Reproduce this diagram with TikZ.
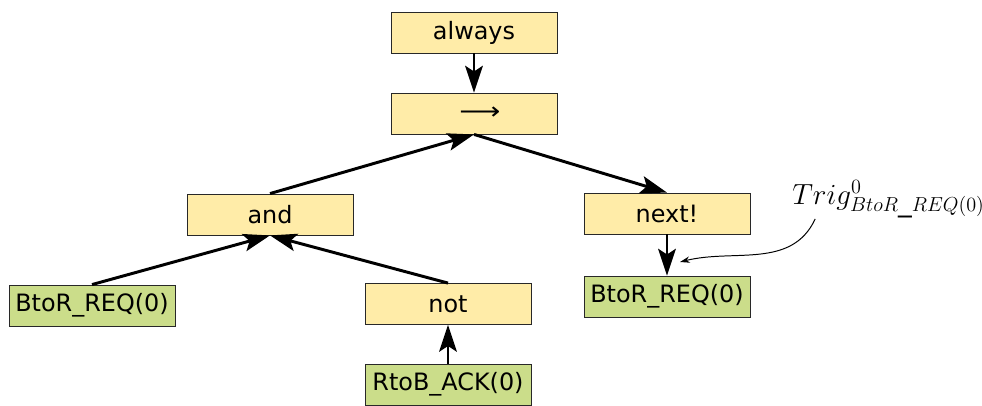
\documentclass[tikz,border=0pt]{standalone}
\usepackage{fontspec}
\setmainfont{DejaVu Sans}
\usepackage{tikz}
\usetikzlibrary{arrows.meta,positioning}
\definecolor{OpYel} {RGB}{255,236,168}
\definecolor{SigGrn}{RGB}{203,221,138}
\definecolor{EdgeG} {RGB}{40,40,40}
\tikzset{
  opbox/.style={draw=EdgeG,line width=0.6pt,fill=OpYel,minimum width=4.15cm,
    minimum height=1.025cm,inner sep=0pt,font=\fontsize{17}{20}\selectfont},
  sigbox/.style={opbox,fill=SigGrn},
  tree/.style={-{Stealth[length=19pt,width=12.5pt,inset=4pt]},line width=2.1pt}
}
\begin{document}
\begin{tikzpicture}
        \useasboundingbox (0,0) rectangle (24.55,10.125);
        % operators
        \node[opbox] (always) at (11.85,9.3125) {always};
        \node[opbox] (impl) at (11.85,7.2875)
          {\hspace{0.5em}\raisebox{-0.4em}{\scalebox{1.2}[1]{⟶}}};
        \node[opbox] (and) at (6.75,4.7625) {and};
        \node[opbox] (next) at (16.675,4.7875) {next!};
        \node[opbox] (not) at (11.2,2.525) {not};
        % signals
        \node[sigbox] (reqL) at (2.3,2.4875) {BtoR\_REQ(0)};
        \node[sigbox] (ack) at (11.2,0.5125) {RtoB\_ACK(0)};
        \node[sigbox] (reqR) at (16.675,2.7125) {BtoR\_REQ(0)};
        \draw[tree] (always) -- (impl);
        \draw[tree] (and.north) -- (impl.south);
        \draw[tree] (impl.south) -- (next.north);
        \draw[tree] (reqL.north) -- (and.south);
        \draw[tree] (not.north) -- (and.south);
        \draw[tree] (ack) -- (not);
        \draw[tree] (next) -- (reqR);
        % trigger label
        \node[font=\fontsize{19.5}{22}\selectfont,anchor=base west,inner sep=0pt] (trig) at (19.8,5.02)
          {$Trig^{0}_{BtoR\_REQ(0)}$};
        \coordinate (tend) at (17.0,3.575);
        \draw[-{Stealth[length=7pt,width=4.5pt]},line width=0.7pt]
          ([xshift=0.58cm,yshift=-0.02cm]trig.south west) to[out=-115,in=14] (tend);
\end{tikzpicture}
\end{document}
